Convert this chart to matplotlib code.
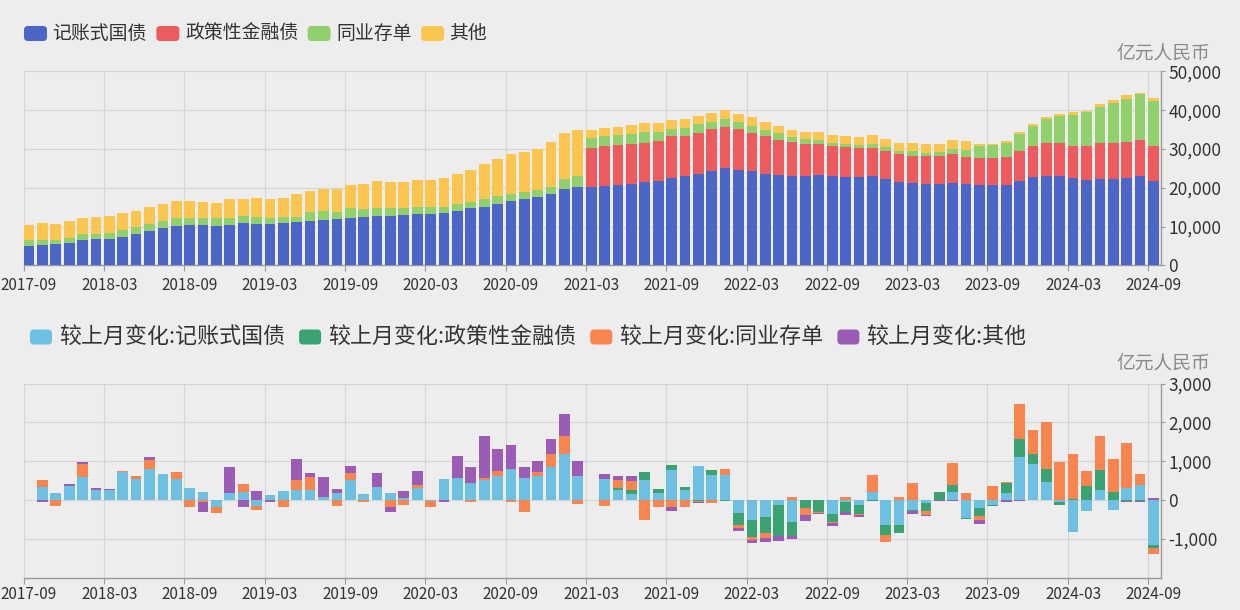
import numpy as np
import matplotlib
matplotlib.use("Agg")
import matplotlib.pyplot as plt
from matplotlib.patches import FancyBboxPatch
from matplotlib.ticker import FuncFormatter

plt.rcParams['font.family'] = ['Noto Sans CJK SC', 'DejaVu Sans']

# months 2017-09 .. 2024-09
months = [f"{2017 + (8 + i) // 12}-{(8 + i) % 12 + 1:02d}" for i in range(85)]

# top panel: holdings, 亿元
gov = [5000, 5300, 5500, 5750, 6450, 6700, 6950, 7450, 8050, 9000,
       9550, 10250, 10400, 10500, 10300, 10550, 10900, 10600, 10750, 10900,
       11100, 11400, 11600, 11950, 12300, 12450, 12650, 12800, 12950, 13150,
       13150, 13650, 14150, 14700, 15200, 15900, 16550, 17100, 17600, 18500,
       19650, 20350, 20200, 20600, 20850, 21050, 21400, 21900, 22600, 22950,
       23650, 24300, 25000, 24650, 24300, 23650, 23250, 22950, 23050, 23250,
       23000, 22900, 22800, 23000, 22300, 21450, 21200, 21100, 21100, 21350,
       20950, 20800, 20700, 20800, 21870, 22810, 23150, 23150, 22470, 22130,
       22300, 22300, 22470, 22980, 21870]
policy = [0] * 42 + [
       10050, 10250, 10300, 10300, 10250, 10150, 10650, 10450, 10600, 10850,
       10650, 10500, 9800, 9600, 9150, 8750, 8300, 8050, 7700, 7550,
       7400, 7400, 7200, 7300, 7100, 7050, 7200, 7400, 7000, 7000,
       7000, 7200, 7550, 7900, 8400, 8400, 8250, 8750, 9250, 9250,
       9250, 9250, 9000]
ncd = [1600, 1300, 1100, 1400, 1550, 1450, 1450, 1800, 1900, 1750,
       1950, 2050, 1900, 1700, 2000, 1750, 1750, 1800, 1550, 1550,
       1350, 2400, 2550, 1900, 2400, 2100, 2250, 2100, 1950, 1850,
       1850, 1550, 1750, 1700, 1900, 1900, 1900, 1900, 1900, 1700,
       2750, 2600, 2650, 2400, 2400, 2550, 2650, 2400, 2050, 2050,
       2250, 1900, 2050, 1800, 1750, 1750, 1700, 1350, 1150, 1100,
       850, 950, 950, 1000, 950, 700, 1100, 850, 850, 1300,
       1900, 3100, 3300, 3500, 4400, 5300, 6150, 6850, 8050, 8600,
       9250, 10300, 11300, 11850, 11400]
other = [3900, 4300, 4150, 4300, 4200, 4300, 4400, 4200, 4100, 4450,
         4400, 4300, 4300, 4200, 3900, 4800, 4600, 4900, 4950, 5000,
         6050, 5300, 5500, 5800, 6000, 6350, 6850, 6500, 6500, 7150,
         7050, 7400, 7750, 8100, 9100, 9600, 10300, 10300, 10650, 11700,
         11650, 12050, 2050, 2150, 2250, 2350, 2500, 2400, 2250, 2400,
         2050, 2200, 2250, 2150, 2400, 2050, 1900, 1900, 2000, 2050,
         2050, 2050, 1950, 2250, 2150, 2150, 2250, 2300, 2250, 2400,
         2300, 400, 400, 500, 600, 500, 500, 700, 700, 450,
         750, 700, 850, 500, 850]

# bottom panel: month-on-month change, 亿元
nan = np.nan
d_gov = [nan, 340, 170, 360, 600, 260, 270, 730, 530, 790,
         670, 530, 300, 200, -190, 170, 210, -150, 130, 240,
         260, 260, 70, 190, 510, 150, 340, 170, 40, 320,
         -20, 540, 560, 430, 510, 620, 790, 560, 620, 855,
         1200, 615, nan, 530, 260, 150, 515, 190, 770, 260,
         870, 640, 640, -340, -515, -430, -130, -555, 0, 0,
         -350, -50, -130, 210, -640, -640, -260, -80, 10, 210,
         -470, -200, -130, 170, 1110, 940, 470, -50, -820, -280,
         260, -260, 300, 380, -1150]
d_policy = [nan] + [0] * 41 + [nan,
         0, 40, 100, 215, 95, 145, 70, -20, 145, -30,
         -300, -430, -430, -785, -385, -210, -300, -220, -250, -220,
         -20, -260, -210, -10, -200, 210, 170, -30, -220, -20,
         260, 470, 260, 340, -80, 20, 370, 510, 210, -20,
         -20, -85]
d_ncd = [nan, 170, -150, 0, 320, 0, 0, 20, 85, 240,
         0, 200, -190, -60, -150, 0, 210, -110, 0, -170,
         260, 340, 0, -145, 190, -60, 0, -170, -130, 60,
         -170, 0, 0, -50, 70, 140, -40, -320, 110, 340,
         445, -110, nan, -145, 215, 230, -515, -170, -190, -170,
         -40, -85, 170, -85, -85, -130, 0, 85, -170, -30,
         -30, 80, -30, 430, -170, 80, 430, -100, 0, 570,
         170, -100, 350, 40, 900, 600, 1200, 980, 1180, 380,
         870, 850, 1180, 280, -145]
d_other = [nan, -60, 0, 50, 70, 60, 10, 0, 0, 85,
           0, 0, 0, -240, 0, 670, -170, 230, -60, 0,
           530, 110, 530, 85, 180, 0, 360, -130, 200, 380,
           0, -60, 570, 410, 1080, 550, 620, 300, 265, 385,
           580, 390, nan, 130, 100, 130, 0, 0, -85, 0,
           -20, 0, 0, -85, -70, -85, -150, -60, -150, -20,
           -60, -80, -60, 0, 0, 0, -80, -20, -30, -20,
           0, -90, 0, -40, -30, 0, 10, 0, 0, 0,
           0, 0, -20, -20, 40]

top_labels = ['记账式国债', '政策性金融债', '同业存单', '其他']
bot_labels = ['较上月变化:' + s for s in top_labels]
top_colors = ['#4c66c8', '#ec5b5d', '#90d16d', '#fbc54f']
bot_colors = ['#6ec0e2', '#3ba272', '#f8844f', '#9a5cb4']

BG = '#ededed'
GRID = '#d6d6d6'
AXC = '#9a9a9a'
TXT = '#333333'

fig = plt.figure(figsize=(12.4, 6.1), dpi=100)
fig.patch.set_facecolor(BG)
ax1 = fig.add_axes([0.0191, 0.5648, 0.9168, 0.3180])
ax2 = fig.add_axes([0.0191, 0.0531, 0.9168, 0.3179])

x = np.arange(len(months))

# stacked holdings
base = np.zeros(len(x))
for vals, c in zip([gov, policy, ncd, other], top_colors):
    v = np.array(vals, dtype=float)
    ax1.bar(x, v, width=0.8, align='edge', bottom=base, color=c, linewidth=0, zorder=3)
    base += v

# changes, stacked by sign
pos = np.zeros(len(x))
neg = np.zeros(len(x))
for vals, c in zip([d_gov, d_policy, d_ncd, d_other], bot_colors):
    v = np.nan_to_num(np.array(vals, dtype=float))
    b = np.where(v >= 0, pos, neg)
    ax2.bar(x, v, width=0.8, align='edge', bottom=b, color=c, linewidth=0, zorder=3)
    pos += np.where(v > 0, v, 0)
    neg += np.where(v < 0, v, 0)

xt = np.arange(0, 85, 6)
fmt = FuncFormatter(lambda v, p: f"{v:,.0f}")
for ax, ylim, yt, lpad in [(ax1, (0, 50000), np.arange(0, 50001, 10000), 8),
                           (ax2, (-2000, 3000), np.arange(-1000, 3001, 1000), 6)]:
    ax.set_facecolor(BG)
    ax.set_xlim(0, 84.93)
    ax.set_ylim(*ylim)
    ax.set_xticks(xt)
    ax.set_xticklabels([])
    ax.set_xticks(xt + 0.4, minor=True)
    ax.set_xticklabels([months[i] for i in xt], minor=True)
    ax.tick_params(axis='x', which='minor', length=0, pad=lpad, labelsize=11, labelcolor=TXT)
    ax.tick_params(axis='x', which='major', length=4, color=AXC)
    ax.set_yticks(yt)
    ax.yaxis.set_major_formatter(fmt)
    ax.yaxis.tick_right()
    ax.tick_params(axis='y', length=3, pad=2.5, color=AXC, labelsize=12.5, labelcolor=TXT)
    ax.xaxis.grid(True, which='major', color=GRID, lw=0.9, zorder=0)
    ax.yaxis.grid(True, color=GRID, lw=0.9, zorder=0)
    ax.set_axisbelow(True)
    for s in ['top', 'left']:
        ax.spines[s].set_visible(False)
    for s in ['right', 'bottom']:
        ax.spines[s].set_color(AXC)
        ax.spines[s].set_linewidth(1)

# overlay in pixel coordinates for legends and unit labels
ov = fig.add_axes([0, 0, 1, 1])
ov.set_xlim(0, 1240)
ov.set_ylim(610, 0)
ov.axis('off')
renderer = fig.canvas.get_renderer()


def legend_row(labels, colors, x0, yc, fs, bw, bh, tgap, igap):
    xx = x0
    for lab, col in zip(labels, colors):
        ov.add_patch(FancyBboxPatch((xx, yc - bh / 2), bw, bh,
                                    boxstyle='round,pad=0,rounding_size=4',
                                    fc=col, ec='none'))
        t = ov.text(xx + bw + tgap, yc, lab, fontsize=fs, va='center', ha='left', color=TXT)
        w = t.get_window_extent(renderer).width
        xx = xx + bw + tgap + w + igap


legend_row(top_labels, top_colors, 24, 33.5, 13.6, 23, 15, 5.5, 9.5)
legend_row(bot_labels, bot_colors, 30, 337, 15.8, 22, 15, 7, 14)

ov.text(1210, 54, '亿元人民币', fontsize=13.5, color='#8a8a8a', ha='right', va='center')
ov.text(1210, 364, '亿元人民币', fontsize=13.5, color='#8a8a8a', ha='right', va='center')

fig.savefig('out.png', dpi=100, facecolor=BG)
